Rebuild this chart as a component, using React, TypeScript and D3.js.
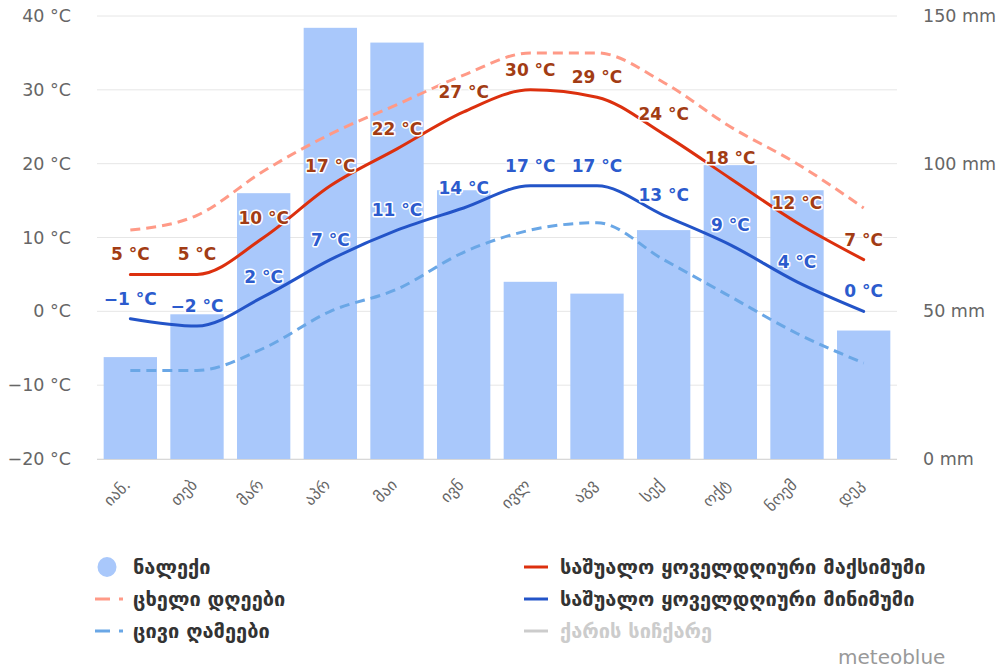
import React, { useEffect, useRef } from 'react';
import * as d3 from 'd3';

const months = ['იან.', 'თებ', 'მარ', 'აპრ', 'მაი', 'ივნ', 'ივლ', 'აგვ', 'სექ', 'ოქტ', 'ნოემ', 'დეკ'];
const precipitation = [34.5, 49, 90, 146, 141, 91, 60, 56, 77.5, 99.5, 91, 43.5];
const hotDays = [11, 13, 19, 24, 28, 32, 35, 35, 31, 25, 20, 14];
const coldNights = [-8, -8, -5, 0, 3, 8, 11, 12, 7, 2, -3, -7];
const maxTemp = [5, 5, 10, 17, 22, 27, 30, 29, 24, 18, 12, 7];
const minTemp = [-1, -2, 2, 7, 11, 14, 17, 17, 13, 9, 4, 0];
const tempTicks = [-20, -10, 0, 10, 20, 30, 40];
const precTicks = [0, 50, 100, 150];

const FONT = '"DejaVu Sans", Verdana, sans-serif';

export default function App() {
  const ref = useRef<SVGSVGElement>(null);

  useEffect(() => {
    const w = 1003;
    const h = 671;
    const left = 97, right = 897, top = 16, bottom = 459;

    const svg = d3.select(ref.current);
    svg.selectAll('*').remove();
    svg.append('rect').attr('width', w).attr('height', h).attr('fill', '#fff');

    const x = d3.scaleBand<string>().domain(months).range([left, right]).paddingInner(0.2).paddingOuter(0.1);
    const cx = (i: number) => (x(months[i]) as number) + x.bandwidth() / 2;
    const yT = d3.scaleLinear().domain([-20, 40]).range([bottom, top]);
    const yP = d3.scaleLinear().domain([0, 150]).range([bottom, top]);

    // grid
    svg.append('g').selectAll('line')
      .data(tempTicks)
      .enter()
      .append('line')
      .attr('x1', left).attr('x2', right)
      .attr('y1', d => yT(d)).attr('y2', d => yT(d))
      .attr('stroke', '#e6e6e6')
      .attr('stroke-width', 1);

    // left axis labels
    svg.append('g').selectAll('text')
      .data(tempTicks)
      .enter()
      .append('text')
      .attr('x', 71)
      .attr('y', d => yT(d) + 6)
      .attr('text-anchor', 'end')
      .attr('font-family', FONT)
      .attr('font-size', 17.5)
      .attr('fill', '#666')
      .text(d => (d < 0 ? '\u2212' + Math.abs(d) : String(d)) + ' °C');

    // right axis labels
    svg.append('g').selectAll('text')
      .data(precTicks)
      .enter()
      .append('text')
      .attr('x', 923)
      .attr('y', d => yP(d) + 6)
      .attr('font-family', FONT)
      .attr('font-size', 17.5)
      .attr('fill', '#666')
      .text(d => d + ' mm');

    // bars
    svg.append('g').selectAll('rect')
      .data(precipitation)
      .enter()
      .append('rect')
      .attr('x', (d, i) => x(months[i]) as number)
      .attr('y', d => yP(d))
      .attr('width', x.bandwidth())
      .attr('height', d => bottom - yP(d))
      .attr('fill', '#a9c8fb');

    // x axis line + labels
    svg.append('line')
      .attr('x1', left).attr('x2', right)
      .attr('y1', bottom + 0.5).attr('y2', bottom + 0.5)
      .attr('stroke', '#d8d8d8');

    svg.append('g').selectAll('text')
      .data(months)
      .enter()
      .append('text')
      .attr('transform', (d, i) => `translate(${cx(i) + 1},${bottom + 27}) rotate(-45)`)
      .attr('text-anchor', 'end')
      .attr('font-family', FONT)
      .attr('font-size', 16)
      .attr('fill', '#666')
      .text(d => d);

    const line = (vals: number[]) => d3.line<number>()
      .x((d, i) => cx(i))
      .y(d => yT(d))
      .curve(d3.curveMonotoneX)(vals);

    const series = [
      { vals: hotDays, color: '#ff9a87', dash: '10,6' },
      { vals: coldNights, color: '#6aa7e6', dash: '10,6' },
      { vals: maxTemp, color: '#dc300e', dash: null },
      { vals: minTemp, color: '#2354c8', dash: null },
    ];
    series.forEach(s => {
      svg.append('path')
        .attr('d', line(s.vals))
        .attr('fill', 'none')
        .attr('stroke', s.color)
        .attr('stroke-width', 3)
        .attr('stroke-dasharray', s.dash)
        .attr('stroke-linecap', s.dash ? 'butt' : 'round');
    });

    // data labels
    const labels = (vals: number[], color: string) => {
      svg.append('g').selectAll('text')
        .data(vals)
        .enter()
        .append('text')
        .attr('x', (d, i) => cx(i))
        .attr('y', d => yT(d) - 14)
        .attr('text-anchor', 'middle')
        .attr('font-family', FONT)
        .attr('font-size', 17)
        .attr('font-weight', 'bold')
        .attr('fill', color)
        .attr('stroke', '#fff')
        .attr('stroke-width', 3)
        .attr('stroke-linejoin', 'round')
        .attr('paint-order', 'stroke')
        .text(d => (d < 0 ? '\u2212' + Math.abs(d) : String(d)) + ' °C');
    };
    labels(maxTemp, '#a23c14');
    labels(minTemp, '#2c5bcd');

    // legend
    const legend = [
      { label: 'ნალექი', col: 0, row: 0, kind: 'circle', color: '#a9c8fb' },
      { label: 'ცხელი დღეები', col: 0, row: 1, kind: 'dash', color: '#ff9a87' },
      { label: 'ცივი ღამეები', col: 0, row: 2, kind: 'dash', color: '#6aa7e6' },
      { label: 'საშუალო ყოველდღიური მაქსიმუმი', col: 1, row: 0, kind: 'line', color: '#dc300e' },
      { label: 'საშუალო ყოველდღიური მინიმუმი', col: 1, row: 1, kind: 'line', color: '#2354c8' },
      { label: 'ქარის სიჩქარე', col: 1, row: 2, kind: 'line', color: '#cccccc', hidden: true },
    ];
    const lg = svg.append('g');
    legend.forEach(l => {
      const lx = l.col === 0 ? 95 : 524;
      const ly = 567 + l.row * 32;
      if (l.kind === 'circle') {
        lg.append('ellipse').attr('cx', lx + 12).attr('cy', ly).attr('rx', 9.5).attr('ry', 10).attr('fill', l.color);
      } else if (l.kind === 'dash') {
        lg.append('line').attr('x1', lx).attr('x2', lx + 28).attr('y1', ly).attr('y2', ly)
          .attr('stroke', l.color).attr('stroke-width', 3).attr('stroke-dasharray', '15,9,4,20');
      } else {
        lg.append('line').attr('x1', lx).attr('x2', lx + 24).attr('y1', ly).attr('y2', ly)
          .attr('stroke', l.color).attr('stroke-width', 3);
      }
      lg.append('text')
        .attr('x', l.col === 0 ? 133 : lx + 36)
        .attr('y', ly + 7)
        .attr('font-family', FONT)
        .attr('font-size', 20)
        .attr('font-weight', 'bold')
        .attr('fill', l.hidden ? '#cccccc' : '#333333')
        .text(l.label);
    });

    svg.append('text')
      .attr('x', 838)
      .attr('y', 664)
      .attr('font-family', FONT)
      .attr('font-size', 20)
      .attr('fill', '#999')
      .text('meteoblue');
  }, []);

  return (
    <svg ref={ref} width={1003} height={671} style={{ position: 'absolute', left: 0, top: 0 }} />
  );
}
